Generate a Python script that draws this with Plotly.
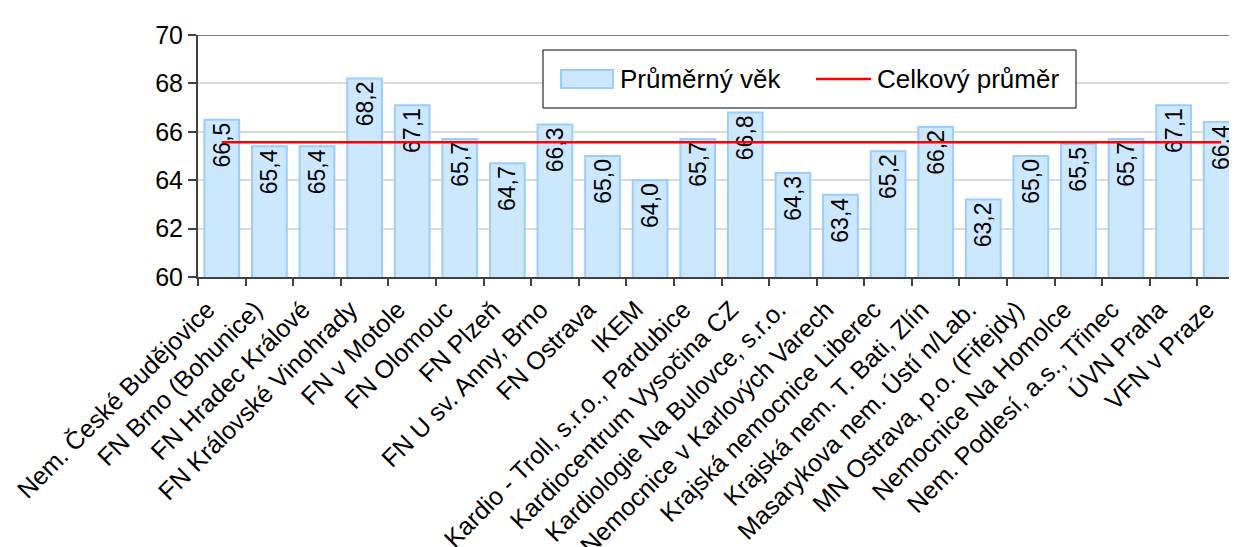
import plotly.graph_objects as go

categories = [
    "Nem. České Budějovice", "FN Brno (Bohunice)", "FN Hradec Králové",
    "FN Královské Vinohrady", "FN v Motole", "FN Olomouc", "FN Plzeň",
    "FN U sv. Anny, Brno", "FN Ostrava", "IKEM", "Kardio - Troll, s.r.o., Pardubice",
    "Kardiocentrum Vysočina CZ", "Kardiologie Na Bulovce, s.r.o.",
    "Nemocnice v Karlových Varech", "Krajská nemocnice Liberec",
    "Krajská nem. T. Bati, Zlín", "Masarykova nem. Ústí n/Lab.",
    "MN Ostrava, p.o. (Fifejdy)", "Nemocnice Na Homolce",
    "Nem. Podlesí, a.s., Třinec", "ÚVN Praha", "VFN v Praze",
]
avg_age = [66.5, 65.4, 65.4, 68.2, 67.1, 65.7, 64.7, 66.3, 65.0, 64.0, 65.7,
           66.8, 64.3, 63.4, 65.2, 66.2, 63.2, 65.0, 65.5, 65.7, 67.1, 66.4]
overall_mean = 65.57
y_ticks = [60, 62, 64, 66, 68, 70]
series_names = ["Průměrný věk", "Celkový průměr"]

labels = [f"{v:.1f}".replace(".", ",") for v in avg_age]
FONT = "Liberation Sans, Arial, sans-serif"
BAR_FILL = "#CCE8FF"
BAR_LINE = "#99CCFF"
MEAN_COLOR = "#FF0000"

W, H = 1237, 547
L, R, T, B = 190, 0, 27, 278
PW, PH = W - L - R, H - T - B
n = len(categories)
idx = list(range(n))
LABEL_SHIFT = 0.3  # rotated labels sit slightly left of the bar centre


def px(x):
    return (x - L) / PW


def py(y):
    return (H - B - y) / PH


fig = go.Figure()
fig.add_trace(go.Bar(
    x=categories, y=avg_age, name=series_names[0],
    marker=dict(color=BAR_FILL, line=dict(color=BAR_LINE, width=2)),
    text=labels, textposition="inside", insidetextanchor="end",
    textangle=-90, constraintext="none",
    textfont=dict(size=23, color="black", family=FONT),
    width=0.73, showlegend=False,
))
# mean line drawn on the label axis (same category positions, by index)
fig.add_trace(go.Scatter(
    x=idx, y=[overall_mean] * n, name=series_names[1], xaxis="x2", yaxis="y",
    mode="lines", line=dict(color=MEAN_COLOR, width=2.5), showlegend=False,
))

# top border of plot area
fig.add_shape(type="line", xref="x domain", yref="y", x0=0, x1=1, y0=70, y1=70,
              line=dict(color="#808080", width=2), layer="below")

# legend box (drawn manually to match the reference layout)
fig.add_shape(type="rect", xref="paper", yref="paper",
              x0=px(535), x1=px(1068), y0=py(100), y1=py(42),
              line=dict(color="black", width=1), fillcolor="white", layer="above")
fig.add_shape(type="rect", xref="paper", yref="paper",
              x0=px(553), x1=px(605), y0=py(80), y1=py(62),
              line=dict(color=BAR_LINE, width=2), fillcolor=BAR_FILL, layer="above")
fig.add_shape(type="line", xref="paper", yref="paper",
              x0=px(808), x1=px(863), y0=py(71), y1=py(71),
              line=dict(color=MEAN_COLOR, width=2.5), layer="above")
fig.add_annotation(xref="paper", yref="paper", x=px(610), y=py(71),
                   xanchor="left", yanchor="middle", showarrow=False,
                   text=series_names[0], font=dict(size=26, family=FONT, color="black"))
fig.add_annotation(xref="paper", yref="paper", x=px(867), y=py(71),
                   xanchor="left", yanchor="middle", showarrow=False,
                   text=series_names[1], font=dict(size=26, family=FONT, color="black"))

fig.update_layout(
    width=W, height=H,
    margin=dict(l=L, r=R, t=T, b=B),
    paper_bgcolor="white", plot_bgcolor="white",
    font=dict(family=FONT, size=25, color="black"),
    showlegend=False,
    bargap=0.27,
    xaxis=dict(
        type="category", tickson="boundaries",
        ticks="outside", ticklen=7, tickwidth=2, tickcolor="#404040",
        showline=True, linecolor="#404040", linewidth=2,
        showticklabels=False, showgrid=False, automargin=False,
    ),
    xaxis2=dict(
        overlaying="x", anchor="y", side="bottom",
        range=[-0.5, n - 0.5], fixedrange=True,
        tickmode="array",
        tickvals=[i - LABEL_SHIFT for i in idx], ticktext=categories,
        tickangle=-45, ticks="", showline=False, showgrid=False, zeroline=False,
        tickfont=dict(size=25, family=FONT, color="black"),
        ticklabelstandoff=12, automargin=False,
    ),
    yaxis=dict(
        range=[60, 70], tickvals=y_ticks, ticktext=[str(t) for t in y_ticks],
        ticks="outside", ticklen=8, tickwidth=2, tickcolor="#404040",
        showline=True, linecolor="#404040", linewidth=2,
        showgrid=True, gridcolor="#D9D9D9", gridwidth=2,
        tickfont=dict(size=25, family=FONT, color="black"),
        zeroline=False, automargin=False,
    ),
)

fig.write_html("out.html")
